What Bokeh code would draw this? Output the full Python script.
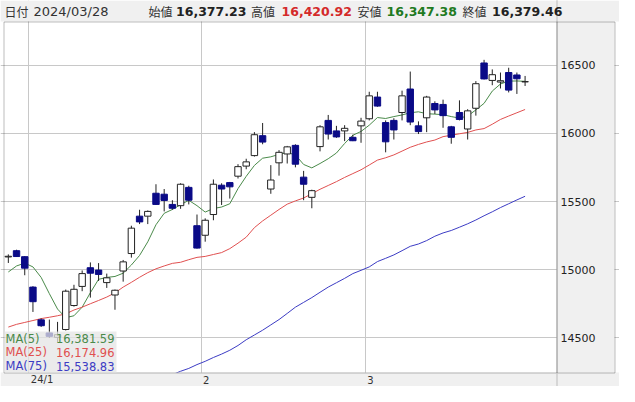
"""
Candlestick chart with 5/25/75 moving averages, drawn with Bokeh.
The whole canvas is the plot frame; header, price panel and month strip
are drawn inside it so nothing gets clipped.
"""

import numpy as np
from bokeh.plotting import figure
from bokeh.models import FixedTicker, Label, BoxAnnotation, Span
from bokeh.embed import file_html
from bokeh.resources import INLINE

# trading days shown
dates = [
    "2023-12-27", "2023-12-28", "2023-12-29",
    "2024-01-02", "2024-01-03", "2024-01-04", "2024-01-05", "2024-01-08", "2024-01-09",
    "2024-01-10", "2024-01-11", "2024-01-12", "2024-01-16", "2024-01-17", "2024-01-18",
    "2024-01-19", "2024-01-22", "2024-01-23", "2024-01-24", "2024-01-25", "2024-01-26",
    "2024-01-29", "2024-01-30", "2024-01-31",
    "2024-02-01", "2024-02-02", "2024-02-05", "2024-02-06", "2024-02-07", "2024-02-08",
    "2024-02-09", "2024-02-12", "2024-02-13", "2024-02-14", "2024-02-15", "2024-02-16",
    "2024-02-20", "2024-02-21", "2024-02-22", "2024-02-23", "2024-02-26", "2024-02-27",
    "2024-02-28", "2024-02-29",
    "2024-03-01", "2024-03-04", "2024-03-05", "2024-03-06", "2024-03-07", "2024-03-08",
    "2024-03-11", "2024-03-12", "2024-03-13", "2024-03-14", "2024-03-15", "2024-03-18",
    "2024-03-19", "2024-03-20", "2024-03-21", "2024-03-22", "2024-03-25", "2024-03-26",
    "2024-03-27", "2024-03-28",
]

opens = [15094, 15140, 15096, 14873, 14633, 14537, 14505, 14562, 14738, 14878,
         15015, 14998, 14906, 14815, 14991, 15119, 15393, 15393, 15561, 15554,
         15479, 15470, 15604, 15323, 15253, 15405, 15620, 15639, 15686, 15760,
         15837, 15983, 15592, 15784, 15849, 15912, 15679, 15531, 15903, 16095,
         16018, 16018, 15971, 16055, 16107, 16266, 16079, 16095, 16153, 16325,
         16055, 16114, 16219, 16212, 16048, 16153, 16032, 16184, 16516, 16388,
         16376, 16446, 16428, 16377.23]
highs = [15113, 15147, 15100, 14880, 14644, 14635, 14618, 14855, 14890, 14995,
         15054, 15049, 14972, 14855, 15072, 15323, 15440, 15435, 15627, 15592,
         15510, 15634, 15616, 15405, 15377, 15662, 15634, 15644, 15774, 15814,
         16009, 16076, 15767, 15877, 15908, 15920, 15725, 15587, 16060, 16135,
         16055, 16060, 15990, 16114, 16305, 16305, 16095, 16111, 16313, 16453,
         16088, 16275, 16235, 16247, 16055, 16242, 16177, 16383, 16539, 16469,
         16446, 16481, 16446, 16420.92]
lows = [15050, 15095, 14960, 14691, 14581, 14500, 14470, 14555, 14730, 14843,
        14796, 14918, 14867, 14707, 14913, 15089, 15335, 15335, 15475, 15428,
        15440, 15447, 15479, 15155, 15206, 15363, 15475, 15522, 15669, 15737,
        15830, 15920, 15557, 15690, 15779, 15751, 15510, 15451, 15868, 15955,
        15967, 15943, 15943, 15931, 16095, 16195, 15861, 15955, 16095, 16060,
        15995, 16009, 16142, 16041, 15924, 16095, 15955, 16130, 16395, 16353,
        16329, 16300, 16289, 16347.38]
closes = [15099, 15097, 15012, 14766, 14590, 14512, 14524, 14843, 14857, 14972,
          14975, 14966, 14941, 14850, 15058, 15305, 15351, 15428, 15479, 15508,
          15451, 15627, 15510, 15159, 15363, 15627, 15592, 15608, 15756, 15791,
          15990, 15936, 15658, 15861, 15901, 15774, 15627, 15580, 16048, 15995,
          15974, 16037, 15946, 16090, 16275, 16200, 15938, 16025, 16275, 16083,
          16013, 16266, 16172, 16130, 15971, 16102, 16165, 16364, 16399, 16430,
          16386, 16317, 16400, 16379.46]

# moving averages as drawn
ma5 = [14984, 15028, 15049, 15021, 14944, 14825, 14712, 14649, 14663, 14726,
       14832, 14930, 14944, 14951, 14975, 15035, 15105, 15205, 15330, 15414,
       15442, 15477, 15509, 15470, 15423, 15449, 15460, 15484, 15595, 15685,
       15765, 15818, 15828, 15846, 15860, 15842, 15772, 15747, 15779, 15814,
       15856, 15926, 15986, 16014, 16060, 16116, 16109, 16123, 16135, 16151,
       16158, 16144, 16141, 16137, 16123, 16112, 16127, 16172, 16220, 16310,
       16362, 16383, 16384, 16381.59]
ma25 = [14580, 14600, 14614, 14628, 14642, 14652, 14663, 14677, 14705, 14726,
        14751, 14775, 14800, 14831, 14873, 14908, 14945, 14979, 15007, 15028,
        15047, 15055, 15074, 15091, 15098, 15112, 15126, 15155, 15195, 15239,
        15309, 15358, 15400, 15442, 15481, 15505, 15526, 15558, 15590, 15618,
        15646, 15677, 15705, 15733, 15768, 15804, 15821, 15842, 15870, 15898,
        15919, 15937, 15951, 15976, 15986, 15997, 16007, 16025, 16035, 16067,
        16102, 16127, 16151, 16174.96]
# the 75-day line only comes into view from the 21st candle
ma75_from = 20
ma75 = [14231, 14256, 14277, 14305, 14329, 14357, 14382, 14410, 14445, 14487,
        14522, 14557, 14596, 14635, 14680, 14726, 14761, 14796, 14835, 14873,
        14905, 14937, 14972, 14996, 15021, 15060, 15084, 15109, 15140, 15172,
        15189, 15214, 15246, 15270, 15288, 15312, 15337, 15365, 15396, 15425,
        15456, 15484, 15512, 15538.83]

price_ticks = [14500, 15000, 15500, 16000, 16500]

GREEN = "#4a8a4a"
RED = "#e05050"
BLUE = "#3c3cc4"
NAVY = "#0a0a87"
INK = "#222222"
PANEL = "#f0f0f0"

# canvas layout (pixels, from top-left)
W, H = 619, 386
CL, CR = 3, 556          # chart area left / right
CT, CB = 21, 372         # chart area top / bottom
PR = 614                 # right edge of the price panel
# what the chart area shows
IDX_LO, IDX_HI = -0.59, 66.83
PRICE_LO, PRICE_HI = 14247, 16820

sx = (IDX_HI - IDX_LO) / (CR - CL)
sy = (PRICE_HI - PRICE_LO) / (CB - CT)
x_range = (IDX_LO - CL * sx, IDX_HI + (W - CR) * sx)
y_range = (PRICE_LO - (H - CB) * sy, PRICE_HI + CT * sy)


def sy_(top_px):
    """screen y (from bottom) for a pixel row counted from the top"""
    return H - top_px


n = len(dates)
idx = np.arange(n)
o = np.array(opens, dtype=float)
c = np.array(closes, dtype=float)
hi = np.array(highs, dtype=float)
lo = np.array(lows, dtype=float)
up = c >= o

# month boundaries sit between the last day of one month and the first of the next
month_bounds, month_labels = [], []
for i in range(1, n):
    if dates[i][:7] != dates[i - 1][:7]:
        month_bounds.append(i - 0.5)
        yy, m = dates[i][2:4], int(dates[i][5:7])
        month_labels.append(f"{yy}/{m}" if dates[i][:4] != dates[i - 1][:4] else str(m))

p = figure(width=W, height=H, x_range=x_range, y_range=y_range,
           output_backend="svg", toolbar_location=None,
           x_axis_location=None, y_axis_location=None,
           min_border=0)
p.background_fill_color = "white"
p.border_fill_color = "white"
p.outline_line_color = None

p.xgrid.ticker = FixedTicker(ticks=month_bounds)
p.ygrid.ticker = FixedTicker(ticks=price_ticks)
p.grid.grid_line_color = "#c8c8c8"

# moving averages under the candles
p.line(idx, ma5, line_color=GREEN, line_width=1)
p.line(idx, ma25, line_color=RED, line_width=1)
p.line(idx[ma75_from:], ma75, line_color=BLUE, line_width=1)

# wicks, then bodies
p.segment(x0=idx, y0=hi, x1=idx, y1=lo, line_color=INK, line_width=1)
p.vbar(x=idx[up], bottom=o[up], top=c[up], width=0.78,
       fill_color="white", line_color=INK, line_width=1)
p.vbar(x=idx[~up], bottom=c[~up], top=o[~up], width=0.78,
       fill_color=NAVY, line_color=NAVY, line_width=1)


def box(l, r, t, b, **kw):
    p.add_layout(BoxAnnotation(left=l, right=r, top=sy_(t), bottom=sy_(b),
                               left_units="screen", right_units="screen",
                               top_units="screen", bottom_units="screen", **kw))


# grey bands: header, month strip, price panel
box(0, W, 0, CT, fill_color=PANEL, fill_alpha=1, line_color=None)
box(0, W, CB, H, fill_color=PANEL, fill_alpha=1, line_color=None)
box(CR, PR, CT, CB, fill_color=PANEL, fill_alpha=1, line_color=None)
# outer border and the dotted edge between chart and prices
box(CL + 0.5, PR + 0.5, CT + 0.5, CB + 0.5, fill_color=None, line_color=INK, line_width=1)
p.add_layout(Span(location=CR + 0.5, location_units="screen", dimension="height",
                  line_color=INK, line_width=1, line_dash="1 1"))
box(CR, CR + 1, CB + 0.5, H, fill_color=PANEL, fill_alpha=1, line_color=None)
box(CR, CR + 1, 0, CT, fill_color=PANEL, fill_alpha=1, line_color=None)

# price labels
for t in price_ticks:
    p.add_layout(Label(x=CR + 4, y=t, x_units="screen", y_units="data", text=str(t),
                       text_align="left", text_baseline="middle",
                       text_font="DejaVu Sans", text_font_size="11px", text_color=INK))

# month labels under the chart
for b, t in zip(month_bounds, month_labels):
    p.add_layout(Label(x=b, y=sy_((CB + H) / 2), x_units="data", y_units="screen", text=t,
                       x_offset=2, text_align="left", text_baseline="middle",
                       text_font="DejaVu Sans", text_font_size="10px", text_color="#333333"))

# moving average box
box(CL + 1, 116, CB - 41, CB, fill_color="#e4e4e4", fill_alpha=0.75, line_color=None)
for k, (name, val, col) in enumerate([("MA(5)", ma5[-1], GREEN),
                                      ("MA(25)", ma25[-1], RED),
                                      ("MA(75)", ma75[-1], BLUE)]):
    ys = sy_(CB - 34 + k * 13.8)
    p.add_layout(Label(x=CL + 2, y=ys, x_units="screen", y_units="screen", text=name,
                       text_align="left", text_baseline="middle",
                       text_font="DejaVu Sans", text_font_size="11.5px", text_color=col))
    p.add_layout(Label(x=114, y=ys, x_units="screen", y_units="screen",
                       text=f"{val:,.2f}", text_align="right", text_baseline="middle",
                       text_font="DejaVu Sans", text_font_size="11.5px", text_color=col))

# header line with the last day's prices
hy = sy_(CT / 2)
d = dates[-1].replace("-", "/")
header = [
    (4, "日付", "Noto Sans CJK JP", "12px", "normal", "#333333"),
    (33, d, "DejaVu Sans", "13px", "normal", "#333333"),
    (148, "始値", "Noto Sans CJK JP", "12px", "normal", "#333333"),
    (175.5, f"{opens[-1]:,.2f}", "DejaVu Sans", "12.5px", "bold", INK),
    (250.5, "高値", "Noto Sans CJK JP", "12px", "normal", "#333333"),
    (281, f"{highs[-1]:,.2f}", "DejaVu Sans", "12.5px", "bold", "#d42a2a"),
    (357, "安値", "Noto Sans CJK JP", "12px", "normal", "#333333"),
    (386, f"{lows[-1]:,.2f}", "DejaVu Sans", "12.5px", "bold", "#1f7a1f"),
    (462, "終値", "Noto Sans CJK JP", "12px", "normal", "#333333"),
    (491.5, f"{closes[-1]:,.2f}", "DejaVu Sans", "12.5px", "bold", INK),
]
for hx, t, f, s, st, col in header:
    p.add_layout(Label(x=hx, y=hy, x_units="screen", y_units="screen", text=t,
                       text_align="left", text_baseline="middle", text_font=f,
                       text_font_size=s, text_font_style=st, text_color=col))

open("out.html", "w").write(file_html(p, INLINE))
